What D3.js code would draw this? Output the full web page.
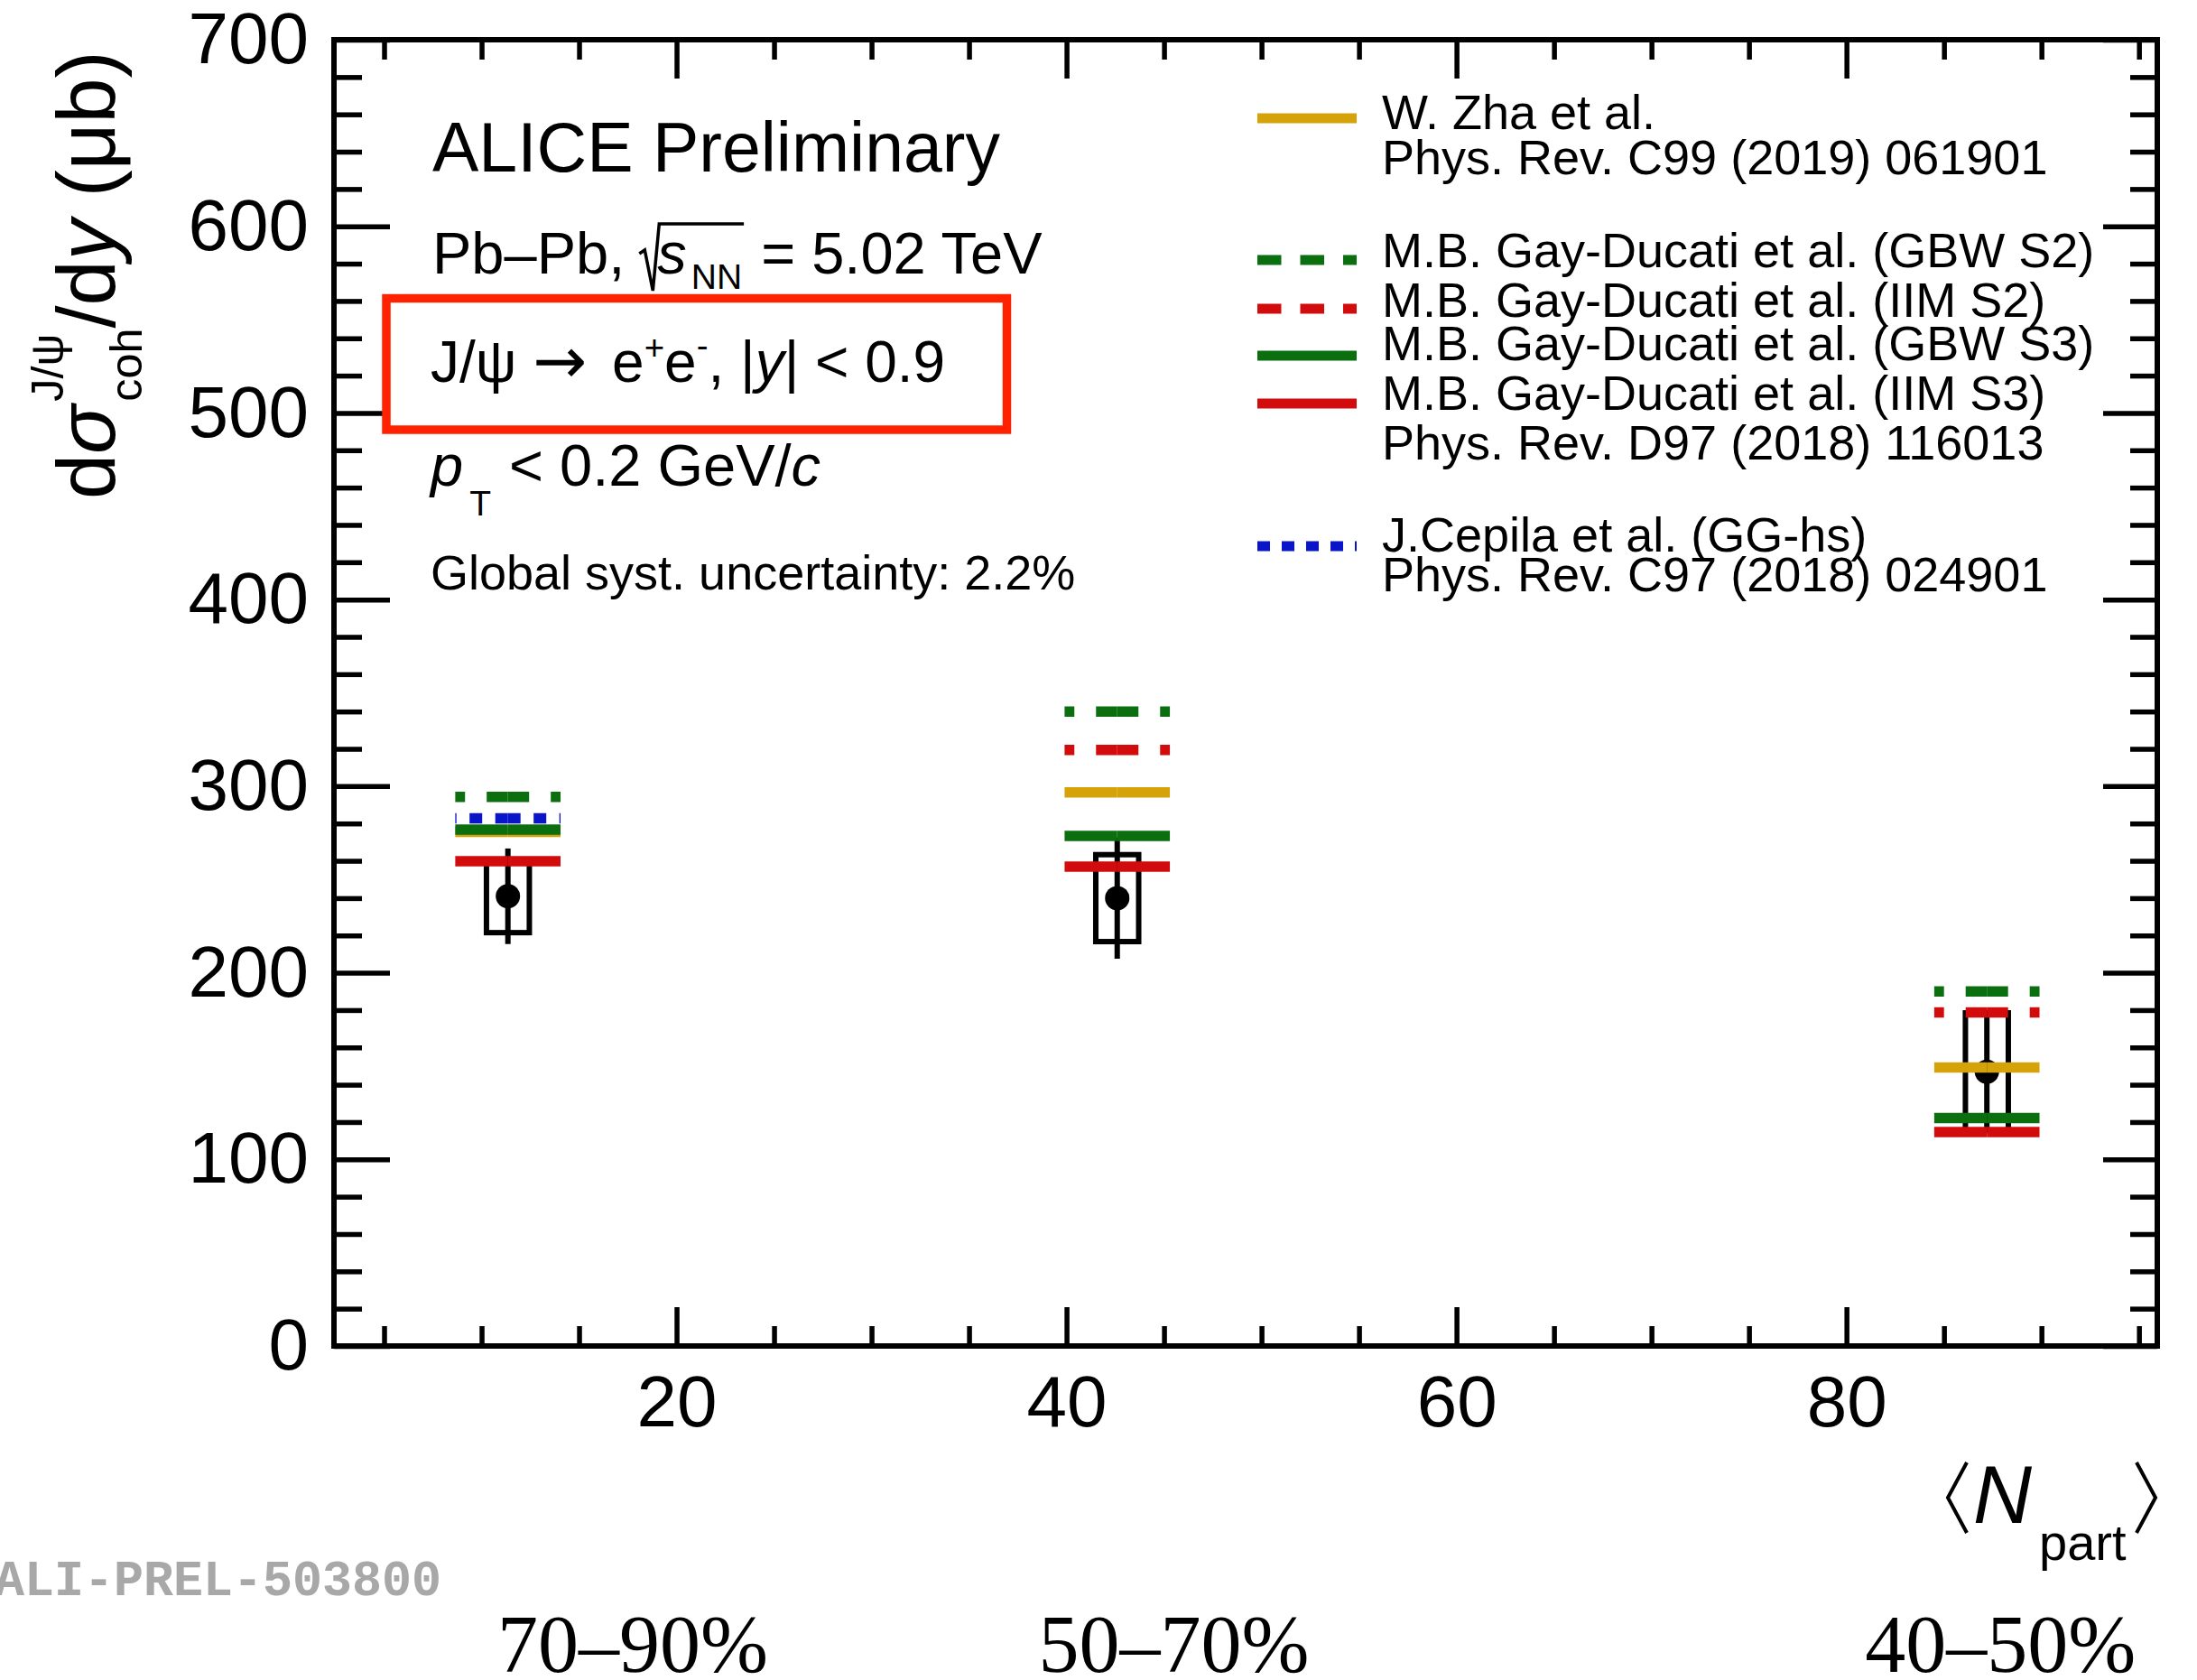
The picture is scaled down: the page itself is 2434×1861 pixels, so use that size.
<!DOCTYPE html>
<html>
<head>
<meta charset="utf-8">
<script src="https://cdn.jsdelivr.net/npm/d3@7"></script>
<style>
  html, body { margin: 0; padding: 0; background: #fff; }
  svg { display: block; }
  text { font-family: "Liberation Sans", Arial, Helvetica, sans-serif; fill: #000; }
</style>
</head>
<body>
<svg id="chart" width="2434" height="1861"></svg>
<script>
// ---- data ---------------------------------------------------------------
// centrality classes and their mean number of participants
const centralityClasses = ["70–90%", "50–70%", "40–50%"];
const nPart = [11.35, 42.6, 87.2];

// coherent J/psi cross section dσ/dy (μb) with uncertainties
const sigmaCoh = [241, 240, 147];
const statErr = [25.6, 32.5, 30];
const systErr = [19.5, 23.3, 31.5];

// model predictions (μb); null where the model is not shown
const zhaPred    = [275.5, 296.7, 149.3];
const gbwS2Pred  = [294.3, 340.0, 190.0];
const iimS2Pred  = [null, 319.4, 178.7];
const gbwS3Pred  = [276.7, 273.3, 122.2];
const iimS3Pred  = [259.8, 256.9, 114.7];
const cepilaPred = [282.7, null, null];

const modelLabels = [
  "W. Zha et al.",
  "M.B. Gay-Ducati et al. (GBW S2)",
  "M.B. Gay-Ducati et al. (IIM S2)",
  "M.B. Gay-Ducati et al. (GBW S3)",
  "M.B. Gay-Ducati et al. (IIM S3)",
  "J.Cepila et al. (GG-hs)"
];
const references = [
  "Phys. Rev. C99 (2019) 061901",
  "Phys. Rev. D97 (2018) 116013",
  "Phys. Rev. C97 (2018) 024901"
];

const yMajorTicks = [0, 100, 200, 300, 400, 500, 600, 700];
const xMajorTicks = [20, 40, 60, 80];

// ---- styling / layout ----------------------------------------------------
const GOLD = "#d6a20a", GREEN = "#0b6f10", RED = "#d20c0c", BLUE = "#0a14c8";
const modelSeries = [zhaPred, gbwS2Pred, iimS2Pred, gbwS3Pred, iimS3Pred, cepilaPred];
const modelStyle = [
  { color: GOLD,  dash: null,          legendDash: null },
  { color: GREEN, dash: "23.5 24",     legendDash: "26.5 21" },
  { color: RED,   dash: "23.5 24",     legendDash: "26.5 21" },
  { color: GREEN, dash: null,          legendDash: null },
  { color: RED,   dash: null,          legendDash: null },
  { color: BLUE,  dash: "14 14.5",     legendDash: "14 13" }
];
const legendLineY = [131, 288, 342, 394, 447, 605];
const legendTextY = [143, 296, 351, 399, 454, 611];
const referenceY  = [193, 509, 655];
const legendX0 = 1393, legendX1 = 1503, legendTextX = 1531;

const W = 2434, H = 1861;
const plot = { left: 370, right: 2390, top: 44, bottom: 1491 };
const FONT = '"Liberation Sans", Arial, Helvetica, sans-serif';

const svg = d3.select("#chart");
svg.append("rect").attr("width", W).attr("height", H).attr("fill", "#fff");

const x = d3.scaleLinear().domain([2.43, 95.94]).range([plot.left, plot.right]);
const y = d3.scaleLinear().domain([0, 700]).range([plot.bottom, plot.top]);

const yMinor = d3.range(0, 701, 20).filter(v => v % 100 !== 0);
const xMinor = d3.range(5, 96, 5).filter(v => v % 20 !== 0);

function styleAxis(g, size) {
  g.select(".domain").remove();
  g.attr("font-family", null).attr("font-size", null);
  g.selectAll(".tick line").attr("stroke", "#000").attr("stroke-width", 5.5);
  g.selectAll(".tick text").attr("fill", "#000")
    .style("font-family", FONT).style("font-size", size + "px");
}

// left axis: major (labelled) and minor ticks pointing into the frame
svg.append("g").attr("transform", `translate(${plot.left},0)`)
  .call(d3.axisLeft(y).tickValues(yMajorTicks).tickSize(-62).tickPadding(28).tickFormat(d3.format("d")))
  .call(g => styleAxis(g, 80));
svg.append("g").attr("transform", `translate(${plot.left},0)`)
  .call(d3.axisLeft(y).tickValues(yMinor).tickSize(-31).tickFormat(""))
  .call(g => styleAxis(g, 80));
// right axis
svg.append("g").attr("transform", `translate(${plot.right},0)`)
  .call(d3.axisRight(y).tickValues(yMajorTicks).tickSize(-60).tickFormat(""))
  .call(g => styleAxis(g, 80));
svg.append("g").attr("transform", `translate(${plot.right},0)`)
  .call(d3.axisRight(y).tickValues(yMinor).tickSize(-30).tickFormat(""))
  .call(g => styleAxis(g, 80));
// bottom axis
svg.append("g").attr("transform", `translate(0,${plot.bottom})`)
  .call(d3.axisBottom(x).tickValues(xMajorTicks).tickSize(-43).tickPadding(32).tickFormat(d3.format("d")))
  .call(g => styleAxis(g, 80));
svg.append("g").attr("transform", `translate(0,${plot.bottom})`)
  .call(d3.axisBottom(x).tickValues(xMinor).tickSize(-22).tickFormat(""))
  .call(g => styleAxis(g, 80));
// top axis
svg.append("g").attr("transform", `translate(0,${plot.top})`)
  .call(d3.axisTop(x).tickValues(xMajorTicks).tickSize(-43).tickFormat(""))
  .call(g => styleAxis(g, 80));
svg.append("g").attr("transform", `translate(0,${plot.top})`)
  .call(d3.axisTop(x).tickValues(xMinor).tickSize(-22).tickFormat(""))
  .call(g => styleAxis(g, 80));

// frame
svg.append("rect")
  .attr("x", plot.left).attr("y", plot.top)
  .attr("width", plot.right - plot.left).attr("height", plot.bottom - plot.top)
  .attr("fill", "none").attr("stroke", "#000").attr("stroke-width", 6);

// ---- rich text helper ----------------------------------------------------
// runs: {t, s: size factor, it: italic, off: baseline offset (px, +down), dx, ff}
function richText(parent, x0, y0, runs, size) {
  const t = parent.append("text").attr("x", x0).attr("y", y0).style("font-size", size + "px");
  let cur = 0;
  const spans = runs.map(r => {
    const ts = t.append("tspan").text(r.t);
    const off = r.off || 0;
    if (off !== cur) { ts.attr("dy", off - cur); cur = off; }
    if (r.s) ts.style("font-size", (size * r.s) + "px");
    if (r.it) ts.style("font-style", "italic");
    if (r.dx) ts.attr("dx", r.dx);
    if (r.ff) ts.style("font-family", r.ff);
    return ts;
  });
  return { text: t, spans };
}

// ---- data points -----------------------------------------------------------
const pts = nPart.map((n, i) => ({ n, v: sigmaCoh[i], st: statErr[i], sy: systErr[i] }));
const dataG = svg.append("g");
const boxHalf = 1.1;
dataG.selectAll("rect.syst").data(pts).join("rect").attr("class", "syst")
  .attr("x", d => x(d.n - boxHalf)).attr("width", d => x(d.n + boxHalf) - x(d.n - boxHalf))
  .attr("y", d => y(d.v + d.sy)).attr("height", d => y(d.v - d.sy) - y(d.v + d.sy))
  .attr("fill", "none").attr("stroke", "#000").attr("stroke-width", 6);
dataG.selectAll("line.stat").data(pts).join("line").attr("class", "stat")
  .attr("x1", d => x(d.n)).attr("x2", d => x(d.n))
  .attr("y1", d => y(d.v + d.st)).attr("y2", d => y(d.v - d.st))
  .attr("stroke", "#000").attr("stroke-width", 6);
dataG.selectAll("circle").data(pts).join("circle")
  .attr("cx", d => x(d.n)).attr("cy", d => y(d.v)).attr("r", 13.5).attr("fill", "#000");

// ---- model predictions: short horizontal bars drawn outward from the centre
const halfWidth = 2.7;
const modelG = svg.append("g");
modelSeries.forEach((vals, m) => {
  const st = modelStyle[m];
  vals.forEach((v, i) => {
    if (v === null) return;
    [-1, 1].forEach(side => {
      modelG.append("line")
        .attr("x1", x(nPart[i])).attr("x2", x(nPart[i] + side * halfWidth))
        .attr("y1", y(v)).attr("y2", y(v))
        .attr("stroke", st.color).attr("stroke-width", 11.5)
        .attr("stroke-dasharray", st.dash);
    });
  });
});

// ---- legend ----------------------------------------------------------------
const legG = svg.append("g").style("font-size", "54px");
modelLabels.forEach((lab, m) => {
  const st = modelStyle[m];
  legG.append("line")
    .attr("x1", legendX0).attr("x2", legendX1)
    .attr("y1", legendLineY[m]).attr("y2", legendLineY[m])
    .attr("stroke", st.color).attr("stroke-width", 11)
    .attr("stroke-dasharray", st.legendDash);
  legG.append("text").attr("x", legendTextX).attr("y", legendTextY[m]).text(lab);
});
references.forEach((r, k) => {
  legG.append("text").attr("x", legendTextX).attr("y", referenceY[k]).text(r);
});

// ---- labels inside the frame ---------------------------------------------
const ann = svg.append("g");
ann.append("text").attr("x", 479).attr("y", 190).style("font-size", "77px").text("ALICE Preliminary");

const pb = richText(ann, 479, 303, [
  { t: "Pb–Pb, " },
  { t: "s", it: true, dx: 18 },
  { t: "NN", s: 0.6, off: 17, dx: 5 },
  { t: " = 5.02 TeV", off: 0, dx: 3 }
], 65);
{
  const node = pb.text.node();
  const sIdx = 7;
  const sStart = node.getStartPositionOfChar(sIdx).x;
  const lastIdx = node.getNumberOfChars() - 12;
  const nnEnd = node.getEndPositionOfChar(lastIdx).x;
  const base = 303, top = base - 55;
  const r0 = sStart - 20;
  ann.append("path")
    .attr("d", `M${r0},${base - 22} L${r0 + 6},${base - 26} L${r0 + 15},${base + 19} L${sStart + 2},${top} L${nnEnd + 2},${top}`)
    .attr("fill", "none").attr("stroke", "#000").attr("stroke-width", 3.5)
    .attr("stroke-linejoin", "miter");
}

// highlighted decay-channel line
ann.append("rect").attr("x", 428).attr("y", 330.5).attr("width", 687.5).attr("height", 145.5)
  .attr("fill", "none").attr("stroke", "#ff2200").attr("stroke-width", 9.5);
richText(ann, 477, 423, [
  { t: "J/ψ " },
  { t: "→", ff: '"DejaVu Sans", sans-serif', s: 1.12, off: 1 },
  { t: " e", off: 0, dx: 10 },
  { t: "+", s: 0.6, off: -25 },
  { t: "e", off: 0 },
  { t: "-", s: 0.6, off: -27 },
  { t: ", |", off: 0 },
  { t: "y", it: true },
  { t: "| < 0.9" }
], 64);

richText(ann, 477, 538, [
  { t: "p", it: true },
  { t: "T", s: 0.6, off: 33, dx: 7 },
  { t: " < 0.2 GeV/", off: 0, dx: 2 },
  { t: "c", it: true }
], 65);

ann.append("text").attr("x", 477).attr("y", 653).style("font-size", "54px")
  .text("Global syst. uncertainty: 2.2%");

// ---- y-axis title (rotated) ----------------------------------------------
const yTitleG = svg.append("g").attr("transform", "translate(127,553) rotate(-90)");
const yt = richText(yTitleG, 0, 0, [
  { t: "d" },
  { t: "σ", it: true },
  { t: "J/ψ", s: 0.56, off: -57, dx: 4 },
  { t: "coh", s: 0.56, off: 30 },
  { t: "/d", off: 0 },
  { t: "y", it: true },
  { t: " (μb)" }
], 90);
yt.spans[3].attr("dx", -yt.spans[2].node().getComputedTextLength());

// ---- x-axis title ⟨N_part⟩ -------------------------------------------------
const xt = svg.append("g");
xt.append("text").attr("x", 2186).attr("y", 1687).style("font-size", "90px")
  .style("font-style", "italic").text("N");
xt.append("text").attr("x", 2259).attr("y", 1728).style("font-size", "56px").text("part");
xt.append("path").attr("d", "M2179,1620 L2158,1659 L2179,1698")
  .attr("fill", "none").attr("stroke", "#000").attr("stroke-width", 4);
xt.append("path").attr("d", "M2367,1620 L2388,1659 L2367,1698")
  .attr("fill", "none").attr("stroke", "#000").attr("stroke-width", 4);

// ---- preliminary figure id and centrality class labels ----------------------
svg.append("text").attr("x", -6).attr("y", 1767)
  .style("font-family", '"Liberation Mono", "Courier New", monospace')
  .style("font-weight", "bold").style("font-size", "55px").style("fill", "#a8a8a8")
  .text("ALI-PREL-503800");

const classLabelN = [17.75, 45.5, 87.9];
svg.selectAll("text.cls").data(centralityClasses).join("text").attr("class", "cls")
  .attr("x", (d, i) => x(classLabelN[i])).attr("y", 1852)
  .attr("text-anchor", "middle")
  .style("font-family", '"Liberation Serif", "Times New Roman", serif')
  .style("font-size", "90px")
  .text(d => d);
</script>
</body>
</html>
